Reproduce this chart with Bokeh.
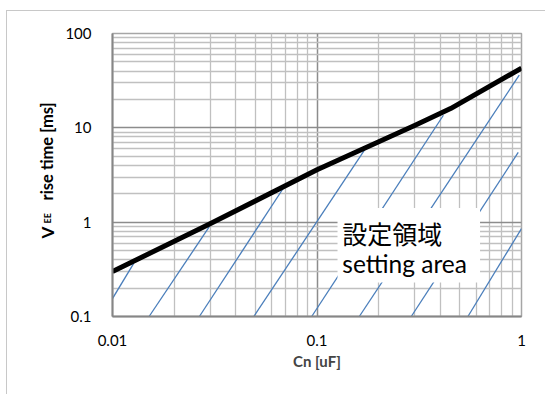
import math
from bokeh.plotting import figure
from bokeh.layouts import row
from bokeh.models import Range1d, FixedTicker, Label, BoxAnnotation
from bokeh.core.properties import value
from bokeh.embed import file_html
from bokeh.resources import INLINE

# black boundary curve (Cn [uF] -> rise time [ms])
curve_x = [0.01, 0.03, 0.1, 0.3, 0.45, 1.0]
curve_y = [0.30, 0.96, 3.6, 10.6, 16.0, 43.0]

# blue hatch segments of the setting area
hatch_x0 = [0.010, 0.0151, 0.0266, 0.0491, 0.0942, 0.161, 0.289, 0.547]
hatch_y0 = [0.155, 0.100, 0.100, 0.100, 0.100, 0.100, 0.100, 0.100]
hatch_x1 = [0.0127, 0.0297, 0.0688, 0.1706, 0.415, 0.975, 0.964, 1.0]
hatch_y1 = [0.365, 0.891, 2.33, 5.80, 13.6, 36.2, 5.48, 0.857]

x_ticks = [0.01, 0.1, 1]
x_labels = ["0.01", "0.1", "1"]
y_ticks = [0.1, 1, 10, 100]
y_labels = ["0.1", "1", "10", "100"]

x_minor = [m * d for d in (0.01, 0.1) for m in range(2, 10)]
y_minor = [m * d for d in (0.1, 1, 10) for m in range(2, 10)]

FONT = "Lato"
H = 383
LW = 55          # width of the y-title strip
W = 538 - LW
FRAME_H = H - 22 - 78

p = figure(width=W, height=H, x_axis_type="log", y_axis_type="log",
           x_range=Range1d(0.01, 1), y_range=Range1d(0.1, 100),
           output_backend="svg", toolbar_location=None,
           min_border_left=100 - LW, min_border_right=24, min_border_top=22, min_border_bottom=78)

p.xaxis.ticker = FixedTicker(ticks=x_ticks, minor_ticks=x_minor)
p.yaxis.ticker = FixedTicker(ticks=y_ticks, minor_ticks=y_minor)
p.xaxis.major_label_overrides = {t: l for t, l in zip(x_ticks, x_labels)}
p.yaxis.major_label_overrides = {t: l for t, l in zip(y_ticks, y_labels)}

for ax in (p.xaxis[0], p.yaxis[0]):
    ax.major_tick_line_color = None
    ax.minor_tick_line_color = None
    ax.major_tick_out = 0
    ax.major_tick_in = 0
    ax.minor_tick_out = 0
    ax.minor_tick_in = 0
    ax.axis_line_color = "#868686"
    ax.axis_line_width = 2
    ax.major_label_text_font = FONT
    ax.major_label_text_font_size = "15px"
    ax.major_label_text_color = "#000000"

p.xaxis.major_label_standoff = 18
p.yaxis.major_label_standoff = 21

p.xaxis.axis_label = "Cn [uF]"
p.xaxis.axis_label_text_font = FONT
p.xaxis.axis_label_text_font_style = "bold"
p.xaxis.axis_label_text_font_size = "15px"
p.xaxis.axis_label_standoff = 3

for g in (p.xgrid[0], p.ygrid[0]):
    g.grid_line_color = "#8c8c8c"
    g.grid_line_width = 1.5
    g.minor_grid_line_color = "#c0c0c0"
    g.minor_grid_line_width = 1.3

p.outline_line_color = "#a6a6a6"
p.outline_line_width = 1.5
p.background_fill_color = "white"
p.border_fill_color = "white"

p.segment(hatch_x0, hatch_y0, hatch_x1, hatch_y1, line_color="#4a7ebb", line_width=1.3)
p.line(curve_x, curve_y, line_color="black", line_width=5, line_join="round")

# text box
p.add_layout(BoxAnnotation(left=0.126, right=0.627, bottom=0.23, top=1.41,
                           fill_color="white", fill_alpha=1, line_color=None))
p.add_layout(Label(x=0.133, y=0.772, text="設定領域", text_font="Noto Sans CJK JP",
                   text_font_size="25px", text_baseline="alphabetic", text_color="black"))
p.add_layout(Label(x=0.133, y=0.362, text="setting area", text_font=FONT,
                   text_font_size="24.5px", text_baseline="alphabetic", text_color="black"))

# strip holding the rotated y-axis title (V with subscript EE);
# its frame is aligned with the main frame, so y is measured from the frame bottom
t = figure(width=LW, height=H, x_range=Range1d(0, LW), y_range=Range1d(0, FRAME_H),
           output_backend="svg", toolbar_location=None,
           min_border_left=0, min_border_right=0, min_border_top=22, min_border_bottom=78,
           x_axis_location=None, y_axis_location=None)
t.grid.visible = False
t.outline_line_color = None
t.background_fill_color = "white"
t.border_fill_color = "white"
rot = dict(angle=math.pi / 2, text_font=value(FONT), text_font_style="bold",
           text_baseline="alphabetic", text_align="left", text_color="black")
t.text(x=[39.5], y=[78], text=["V"], text_font_size="17px", **rot)
t.text(x=[40], y=[93], text=["EE"], text_font_size="9px", **rot)
t.text(x=[39.5], y=[116], text=["rise time [ms]"], text_font_size="16.5px", **rot)

layout = row(t, p, spacing=0)
layout.styles = {"margin-left": "6px", "margin-top": "10px",
                 "border-left": "1px solid #c8c8c8", "border-top": "1px solid #c8c8c8"}

open("out.html", "w").write(file_html(layout, INLINE))
